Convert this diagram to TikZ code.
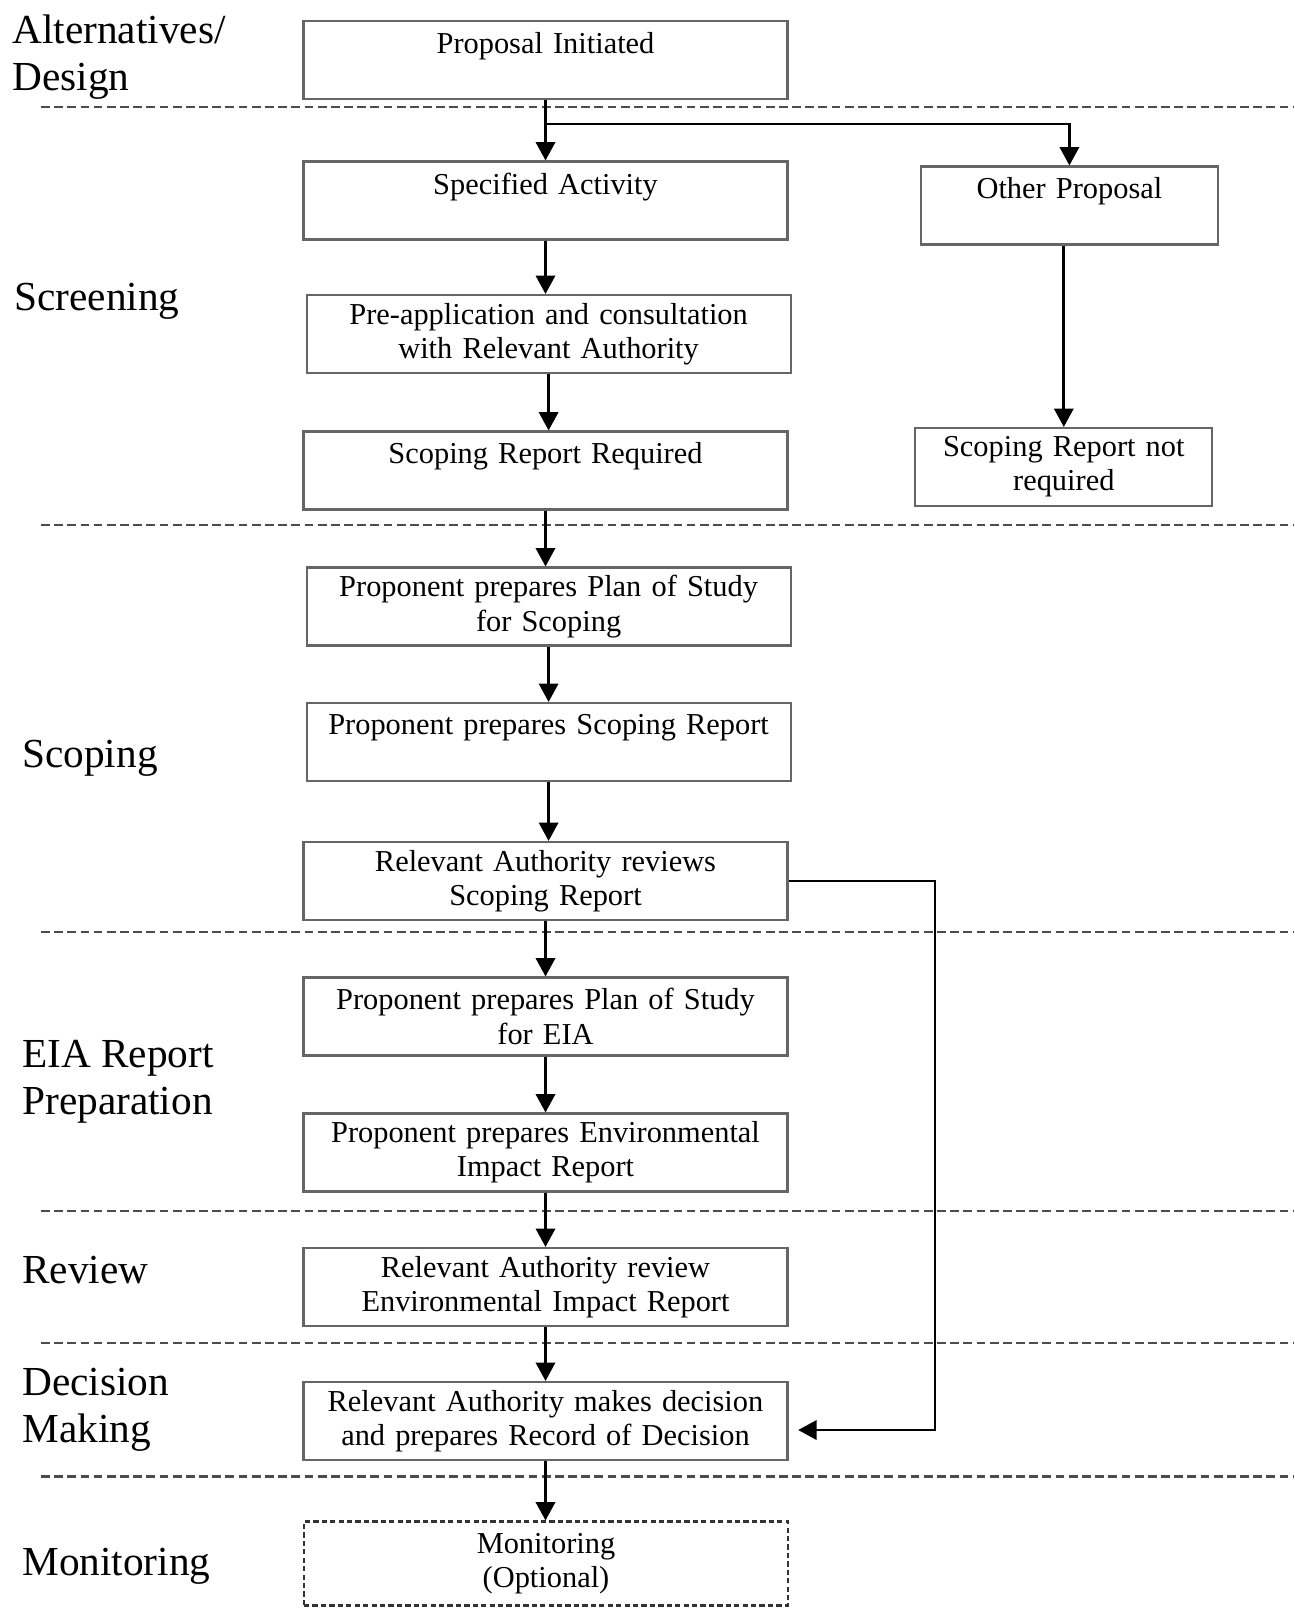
\documentclass[tikz,border=0pt]{standalone}
\usepackage{fontspec}
\setmainfont{Liberation Serif}
\usetikzlibrary{arrows.meta,calc}

\tikzset{
  stage/.style={draw=black!60, line width=1.2pt, minimum width=9.68cm, minimum height=1.56cm,
    text width=9.4cm, align=center, inner sep=0pt, font=\fontsize{17.3}{19.5}\selectfont},
  sidebox/.style={stage, minimum width=5.94cm, text width=5.7cm},
  optbox/.style={stage, draw=black!80, dash pattern=on 3pt off 1.8pt, minimum height=1.68cm},
  phase/.style={anchor=west, align=left, inner sep=0pt, font=\fontsize{23.5}{27}\selectfont},
  divider/.style={black!70, line width=1.4pt, dash pattern=on 5pt off 2.5pt},
  arr/.style={line width=1.5pt, -{Triangle[length=10.5pt,width=11pt]}}
}

\begin{document}
\begin{tikzpicture}[x=0.02cm,y=-0.02cm]
\useasboundingbox (0,0) rectangle (1294,1608);

% phase dividers
\foreach \y in {107,525,932,1211,1343,1476.5}
  \draw[divider] (41,\y) -- (1294,\y);

% phase names
\node[phase] (ad) at (12,57) {Alternatives/\\Design};
\node[phase] (sc) at (14,301) {Screening};
\node[phase] (sg) at (22,758) {Scoping};
\node[phase] (ep) at (22,1082) {EIA Report\\Preparation};
\node[phase] (rw) at (22,1270) {Review};
\node[phase] (dk) at (22,1410) {Decision\\Making};
\node[phase] (mn) at (22,1566) {Monitoring};

% main column
\node[stage] (pi) at (545.5,60) {Proposal Initiated\\\mbox{}};
\node[stage] (sa) at (545.5,200.5) {Specified Activity\\\mbox{}};
\node[stage] (pa) at (548.6,334) {Pre-application and consultation\\with Relevant Authority};
\node[stage] (sr) at (545.5,470.5) {Scoping Report Required\\\mbox{}};
\node[stage] (ps) at (548.6,606.5) {Proponent prepares Plan of Study\\for Scoping};
\node[stage] (sp) at (548.6,742) {Proponent prepares Scoping Report\\\mbox{}};
\node[stage] (rv) at (545.5,881) {Relevant Authority reviews\\Scoping Report};
\node[stage] (pe) at (545.5,1016.5) {Proponent prepares Plan of Study\\for EIA};
\node[stage] (er) at (545.5,1152.5) {Proponent prepares Environmental\\Impact Report};
\node[stage] (rr) at (545.5,1287) {Relevant Authority review\\Environmental Impact Report};
\node[stage] (dm) at (545.5,1421) {Relevant Authority makes decision\\and prepares Record of Decision};
\node[optbox] (mo) at (546,1563.5) {Monitoring\\(Optional)};

% side column
\node[sidebox] (op) at (1069.4,205.5) {Other Proposal\\\mbox{}};
\node[sidebox] (nr) at (1063.8,467) {Scoping Report not\\required};

% arrows
\foreach \a/\b in {pi/sa,sa/pa,pa/sr,sr/ps,ps/sp,sp/rv,rv/pe,pe/er,er/rr,rr/dm,dm/mo}
  \draw[arr] (\a.south) -- (\a.south |- \b.north);

\coordinate (br) at ($(pi.south)+(0,24)$);
\draw[arr] (br) -| (op.north);
\draw[arr] (op.south -| nr.north) -- (nr.north);

\coordinate (fb) at (935,1430);
\draw[arr, shorten >=5.5pt] (rv.east) -| (fb) -- (fb -| dm.east);

\end{tikzpicture}
\end{document}
